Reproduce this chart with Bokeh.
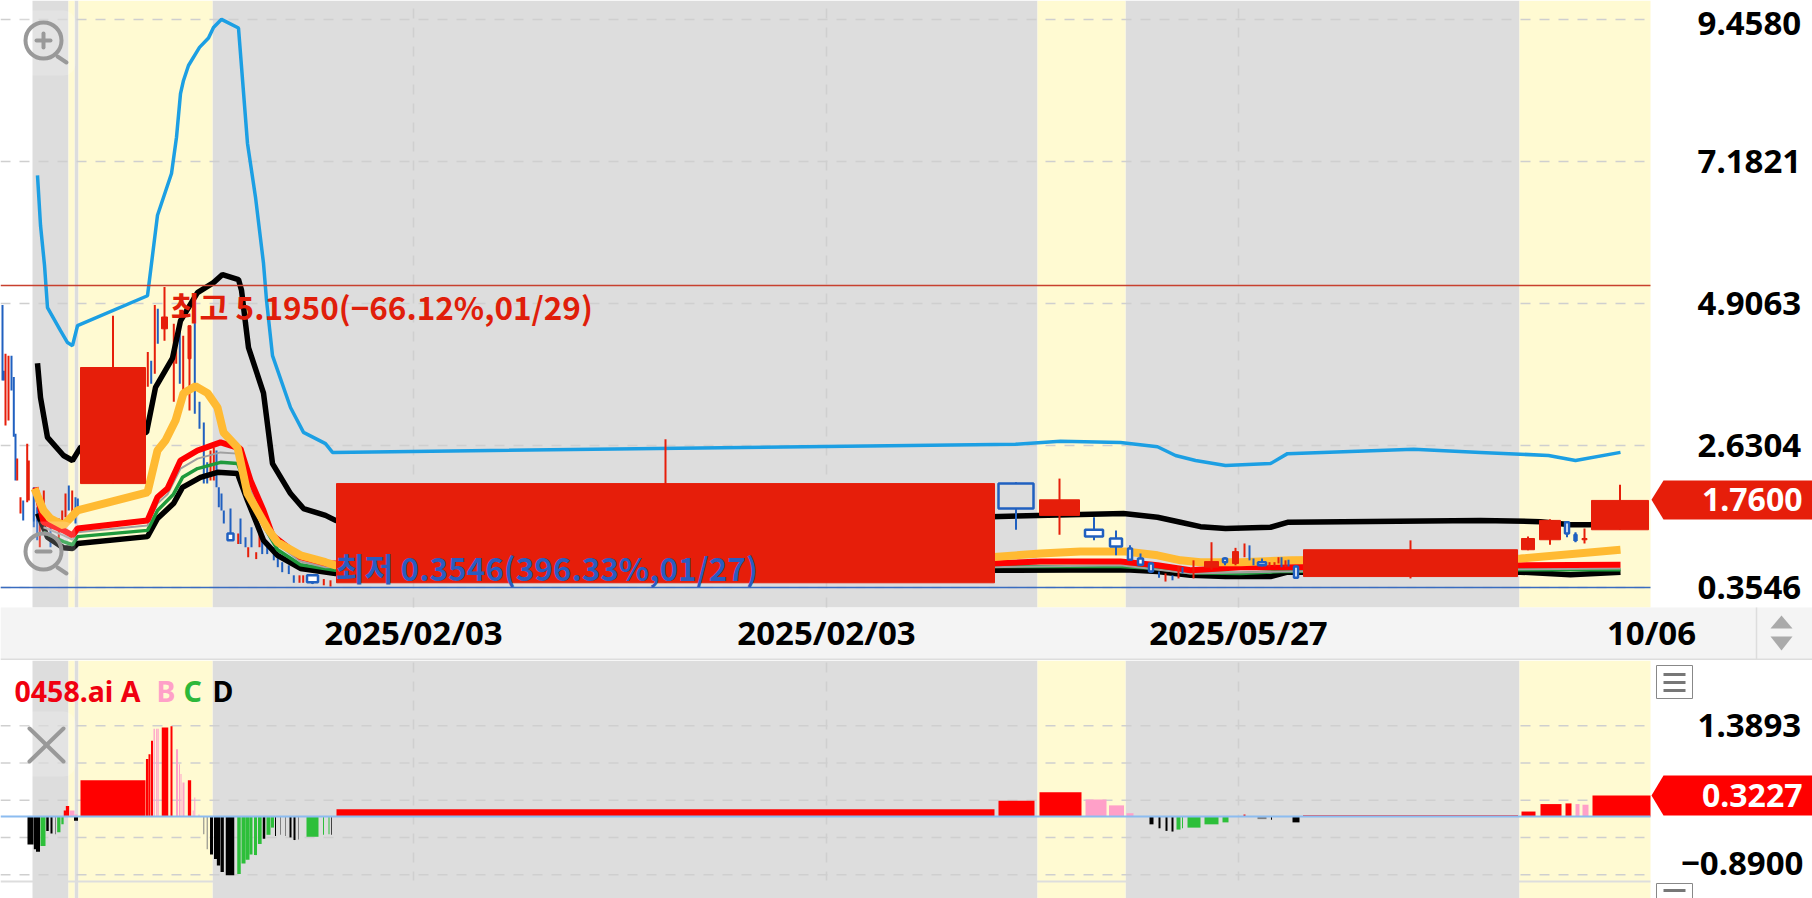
from bokeh.plotting import figure
from bokeh.models import Range1d, FixedTicker, LinearAxis
from bokeh.core.properties import value
from bokeh.layouts import column
from bokeh.embed import file_html
from bokeh.resources import INLINE

# ---------- data ----------
price_ticks = [9.4580, 7.1821, 4.9063, 2.6304, 0.3546]
price_labels = ["9.4580", "7.1821", "4.9063", "2.6304", "0.3546"]
sub_grid = [1.3893, 0.8195, 0.2497, -0.3202, -0.8900]
date_ticks = [413, 826, 1238, 1651]
date_labels = ["2025/02/03", "2025/02/03", "2025/05/27", "10/06"]
high_val, low_val, last_val, last_sub = 5.195, 0.3546, 1.76, 0.3227

gray_left = [32, 74, 212, 1125]
gray_right = [68, 78, 1037, 1519]
yellow_left = [68, 78, 1037, 1519]
yellow_right = [74, 212, 1125, 1650]

blue_x = [37,40,44,47,60,67,72,77,147,157,171,176,180,183,188,199,208,213,221,238,247,255,263,266,272,290,303,325,332,1015,1060,1120,1157,1175,1195,1225,1270,1287,1413,1480,1548,1575,1620]
blue_v = [6.96,6.16,5.52,4.84,4.47,4.28,4.23,4.55,5.03,6.32,6.99,7.57,8.27,8.48,8.72,9.01,9.16,9.33,9.46,9.32,7.47,6.61,5.55,4.96,4.07,3.24,2.84,2.66,2.52,2.65,2.70,2.68,2.61,2.47,2.39,2.31,2.34,2.50,2.57,2.52,2.47,2.39,2.52]
black1_x = [37,40,47,63,72,80,146,155,172,180,197,213,222,238,241,245,248,263,272,290,303,325,335,990,1123,1157,1180,1200,1225,1270,1287,1480,1540,1570,1590,1620]
black1_v = [3.95,3.40,2.76,2.47,2.39,2.60,2.84,3.56,4.03,4.63,5.08,5.24,5.37,5.29,5.12,4.59,4.20,3.47,2.34,1.86,1.62,1.51,1.43,1.49,1.54,1.48,1.40,1.33,1.30,1.32,1.40,1.43,1.41,1.36,1.36,1.44]
orange_x = [34,43,50,63,77,147,157,165,175,183,195,207,217,223,237,247,267,277,300,325,335,990,1040,1080,1125,1157,1180,1200,1240,1290,1520,1620]
orange_v = [1.94,1.59,1.46,1.35,1.59,1.88,2.55,2.71,3.03,3.47,3.58,3.47,3.24,2.84,2.60,1.86,1.30,1.08,0.87,0.76,0.71,0.84,0.90,0.93,0.93,0.87,0.79,0.76,0.76,0.79,0.82,0.96]
red_x = [35,43,63,72,77,147,157,167,180,197,220,240,250,263,272,300,325,990,1040,1120,1157,1190,1240,1280,1520,1620]
red_v = [1.96,1.40,1.27,1.19,1.30,1.43,1.80,1.94,2.39,2.55,2.68,2.58,2.07,1.59,1.19,0.84,0.74,0.74,0.77,0.77,0.71,0.63,0.68,0.68,0.71,0.72]
gray_x = [43,63,72,77,147,157,167,180,197,220,237,250,263,272,300,325,990,1120,1190,1280,1620]
gray_v = [1.32,1.19,1.12,1.24,1.35,1.70,1.85,2.26,2.42,2.52,2.50,1.91,1.48,1.11,0.77,0.68,0.68,0.71,0.58,0.61,0.66]
green_x = [43,63,72,77,147,157,173,182,197,220,237,250,263,277,300,335,990,1120,1157,1190,1240,1280,1520,1620]
green_v = [1.24,1.09,1.04,1.17,1.27,1.59,1.85,2.12,2.26,2.36,2.34,1.83,1.35,0.96,0.72,0.63,0.69,0.69,0.66,0.59,0.58,0.61,0.64,0.64]
black2_x = [37,47,63,72,77,147,157,173,182,200,217,237,247,263,277,300,335,990,1125,1157,1190,1225,1270,1287,1520,1570,1620]
black2_v = [1.54,1.16,0.99,0.98,1.06,1.17,1.46,1.70,1.96,2.12,2.20,2.18,1.75,1.11,0.87,0.66,0.58,0.63,0.64,0.61,0.55,0.53,0.53,0.60,0.60,0.56,0.60]

# candles with a visible body: centre, body width, body top, body bottom, high, low, kind
c_x = [112.5,665,1015.5,1059,1093.5,1115.5,1129.5,1140,1150.5,1211,1224.5,1235,1261.5,1295.5,1410,1527.5,1549.5,1566.5,1575,1584,1619.5,164,189,230,312]
c_w = [65,658,35,40,18,12,4,5,4,14,4,6,8,4,214,13,21,4,2,5,57,6,3,6,11]
c_t = [3.88,2.02,2.02,1.76,1.28,1.14,0.98,0.82,0.74,0.77,0.82,0.93,0.76,0.69,0.96,1.14,1.43,1.40,1.20,1.14,1.75,4.69,4.55,1.22,0.55]
c_b = [2.02,0.43,1.62,1.51,1.17,1.01,0.80,0.72,0.61,0.68,0.76,0.74,0.71,0.51,0.53,0.96,1.12,1.22,1.11,1.12,1.28,4.50,4.02,1.11,0.44]
c_h = [4.71,2.73,2.04,2.10,1.48,1.27,1.03,0.90,0.76,1.08,0.84,0.99,0.82,0.71,1.11,1.17,1.45,1.40,1.24,1.30,2.00,4.69,4.55,1.22,0.57]
c_l = [2.02,0.43,1.28,1.20,1.11,0.87,0.80,0.71,0.59,0.64,0.71,0.71,0.69,0.50,0.50,0.95,1.04,1.16,1.08,1.06,1.28,4.50,4.02,1.11,0.41]
c_k = list("rrbrbbbbbrbrbbrrrbbrrrrbb")

# thin candles (only a stick is visible): x, high, low, kind
thin_x = [2,3.3,5,8,11,13.3,15,16.7,20,22.7,26.7,28.3,33.3,36.7,39.3,43.3,50,58.3,61.7,65,68.3,71.7,75,77.3,147.3,150.7,154.3,157.3,164,173.3,175.7,179.3,182.7,189,194.3,199,203.3,206.7,210,213.3,216,218.3,221,223.3,230,237.7,240,245,247.7,251,255.7,259,261.7,266.7,273.3,277.3,281.7,288.3,293.3,299,302.7,312,323.3,330]
thin_h = [4.88,3.83,4.10,4.07,4.07,3.73,2.82,2.42,1.80,1.75,2.66,2.39,1.96,1.64,1.43,1.91,1.32,1.46,1.59,1.86,1.99,1.91,1.80,1.78,4.13,3.99,4.88,4.82,5.17,4.58,4.37,4.64,4.39,4.55,4.74,3.33,3.00,2.36,2.55,2.60,2.55,1.96,1.86,1.59,1.62,1.22,1.46,1.16,1.00,1.32,0.92,1.24,1.16,1.05,1.00,0.84,0.76,0.71,0.55,0.55,0.55,0.57,0.49,0.47]
thin_l = [3.67,3.67,2.95,3.03,3.51,2.77,2.07,2.07,1.54,1.43,1.72,1.75,1.32,1.11,1.00,1.24,1.00,1.11,1.32,1.48,1.59,1.54,1.38,1.54,3.57,3.62,3.78,4.26,4.31,3.33,3.94,3.62,3.33,3.19,3.14,2.90,2.02,2.02,2.07,2.07,1.96,1.64,1.59,1.38,1.11,1.05,1.05,1.00,0.84,1.00,0.81,1.00,0.89,0.89,0.79,0.68,0.60,0.57,0.43,0.43,0.43,0.41,0.39,0.37]
thin_k = list("bbrrbbbrrbrrbbrrbrrrbrbbrbrbrrrbrrbbbbrrbbbbbrbbrbrrbbbbbbbrrbrr")
thin2_x = [1158.5,1165,1172,1178,1182,1193,1244,1249,1253,1269,1274,1278,1281,1285,1288]
thin2_h = [0.61,0.58,0.55,0.69,0.68,0.79,1.06,1.03,0.82,0.76,0.76,0.84,0.84,0.79,0.80]
thin2_l = [0.51,0.45,0.47,0.50,0.58,0.50,0.84,0.79,0.71,0.68,0.69,0.74,0.68,0.68,0.69]
thin2_k = list("brbrbrrbbrrrbrb")

# indicator histogram: centre, width, value, kind (r red, p pink, g green, k black, y grey)
h_x = [30,34.5,37.5,42.5,47,51,55,58.3,62,64.5,67,71.5,75.5,75.5,112.5,146.7,149,151.5,153.7,156.3,157.7,164.5,171,176.5,179,180.5,183,189,192.7,194.3,198.5,203.3,206.7,211,215,218,221.7,229.5,238.5,243,247,250.5,255,259.3,263.5,268,272,275,280,285,290,294,298,312,323,328.5,331,665,1016,1060,1095.5,1116,1129.5,1151,1159,1166,1172,1178,1182,1193.5,1211,1225,1244,1261.5,1271,1295.5,1410,1528,1550.5,1568,1577,1585,1621]
h_w = [6,2.3,4,5,2.5,2,1,3.3,2.3,2.5,3.3,5,3,4,65,2.5,2,2,1.3,1.3,1,6.5,2,2,1,1,2,3.3,1,1,1,1,1,3,3,3.3,3.3,8.5,3.5,4,4,3,3,3.7,2.5,4,3,1,1,1,2,2,1,12,1,1,0.7,658,36,42,21,15,7,4,2,2,2,4,1,13,14,6,2,9,1,7,215,14,21,6,4,6,58]
h_v = [-0.43,-0.50,-0.54,-0.45,-0.22,-0.26,-0.27,-0.24,-0.12,0.09,0.16,0.09,0.03,-0.066,0.556,0.88,0.95,1.16,1.34,1.34,1.34,1.36,1.38,1.03,0.80,0.65,0.52,0.556,0.09,0.29,0.03,-0.27,-0.50,-0.58,-0.65,-0.75,-0.85,-0.90,-0.88,-0.72,-0.66,-0.58,-0.59,-0.42,-0.34,-0.28,-0.17,-0.30,-0.28,-0.30,-0.32,-0.36,-0.35,-0.31,-0.28,-0.27,-0.28,0.11,0.24,0.37,0.26,0.17,0.05,-0.12,-0.18,-0.22,-0.23,-0.20,-0.18,-0.17,-0.12,-0.09,0.03,-0.04,-0.05,-0.09,0.02,0.076,0.19,0.20,0.19,0.18,0.3227]
h_k = ["k","k","k","g","k","k","y","g","g","r","r","p","p","k","r","r","r","r","p","p","p","r","r","p","p","p","p","r","p","p","p","y","y","k","k","k","k","k","g","g","g","g","g","g","k","g","g","k","y","y","k","k","y","g","g","g","k","r","r","r","p","p","p","k","k","k","k","g","g","g","g","g","r","y","k","k","r","r","r","r","p","p","r"]

COL = {"r": "#e61e0a", "b": "#2060c0"}
HCOL = {"r": "#ff0000", "p": "#ffa0c8", "g": "#2dbf3a", "k": "#000000", "y": "#808080"}
TICK_FONT = "Noto Sans"

# ---------- helpers for decorations (reference pixel -> axis value) ----------
def ty(py):
    return 0.3546 + (587 - py) / 62.4

def sy(py):
    return (816 - py) / 65.4

def base(height, yr):
    p = figure(width=1812, height=height, frame_width=1812, frame_height=height,
               x_range=Range1d(0, 1812), y_range=yr, toolbar_location=None, tools="",
               output_backend="svg", min_border_left=0, min_border_right=0,
               min_border_top=0, min_border_bottom=0, outline_line_color=None,
               background_fill_color="#ffffff", border_fill_color="#ffffff")
    p.xaxis.visible = False
    p.yaxis.visible = False
    p.grid.visible = False
    return p

def bands(p, lo, hi):
    p.quad(left=gray_left, right=gray_right, bottom=lo, top=hi, fill_color="#dddddd", line_color=None, level="image")
    p.quad(left=yellow_left, right=yellow_right, bottom=lo, top=hi, fill_color="#fffad2", line_color=None, level="image")

def grids(p, yticks, lo, hi):
    n = len(yticks)
    p.segment([0] * n, yticks, [1650] * n, yticks, line_color="#cfcfcf", line_dash="10 9", line_width=1.5, level="underlay")
    m = 3
    p.segment(date_ticks[:m], [lo] * m, date_ticks[:m], [hi] * m, line_color="#cfcfcf", line_dash="10 9", line_width=1.5, level="underlay")

def right_axis(p, pos, labels):
    ax = LinearAxis(ticker=FixedTicker(ticks=pos),
                    major_label_overrides=dict(zip(pos, labels)),
                    axis_line_color=None, major_tick_line_color=None, minor_tick_line_color=None,
                    major_tick_in=0, major_tick_out=0,
                    major_label_standoff=-115, major_label_text_font=TICK_FONT,
                    major_label_text_font_size="33px", major_label_text_color="#000000",
                    major_label_text_font_style="bold")
    p.add_layout(ax, "right")

def lens(p, yf, cy, plus):
    p.quad([13], [75], [yf(cy - 30)], [yf(cy + 35)], fill_color="#ffffff", fill_alpha=0.2, line_color=None,
           border_radius=12, level="overlay")
    p.scatter([43], [yf(cy)], marker="circle", size=36, fill_color=None, line_color="#999999", line_width=4, level="overlay")
    p.segment([57], [yf(cy + 16)], [66], [yf(cy + 22)], line_color="#999999", line_width=4, line_cap="round", level="overlay")
    p.segment([36], [yf(cy)], [50], [yf(cy)], line_color="#999999", line_width=4, line_cap="round", level="overlay")
    if plus:
        p.segment([43], [yf(cy - 7)], [43], [yf(cy + 7)], line_color="#999999", line_width=4, line_cap="round", level="overlay")

def tag(p, yf, val, y_top, y_bot, col):
    p.patch([1651, 1663, 1812, 1812, 1663], [val, yf(y_top), yf(y_top), yf(y_bot), yf(y_bot)],
            fill_color=col, line_color=None, level="overlay")
    p.text([1802], [val], text=["%.4f" % val], text_color="#ffffff", text_font=value(TICK_FONT),
           text_font_size="32px", text_font_style="bold", text_align="right", text_baseline="middle", level="overlay")

# ---------- price panel ----------
top = base(660, Range1d(ty(660), ty(0)))
bands(top, ty(607), ty(0))
grids(top, price_ticks, ty(607), ty(0))

# strip holding the dates
top.quad([0], [1812], [ty(607)], [ty(660)], fill_color="#f4f4f4", line_color=None, level="image")
top.segment([0], [ty(659)], [1812], [ty(659)], line_color="#dddddd", line_width=2, level="image")
top.segment([1756], [ty(607)], [1756], [ty(660)], line_color="#dddddd", line_width=1.5, level="image")
top.patch([1770, 1781, 1792], [ty(628), ty(615), ty(628)], fill_color="#aaaaaa", line_color=None)
top.patch([1770, 1781, 1792], [ty(636), ty(650), ty(636)], fill_color="#aaaaaa", line_color=None)

xax = LinearAxis(ticker=FixedTicker(ticks=date_ticks),
                 major_label_overrides=dict(zip(date_ticks, date_labels)),
                 axis_line_color=None, major_tick_line_color=None, minor_tick_line_color=None,
                 major_tick_in=0, major_tick_out=0,
                 major_label_standoff=-51, major_label_text_font=TICK_FONT,
                 major_label_text_font_size="33px", major_label_text_color="#000000",
                 major_label_text_font_style="bold")
top.add_layout(xax, "below")

label_pos = [ty(23)] + price_ticks[1:]
right_axis(top, label_pos, price_labels)

def sticks(p, xs, hi, lo, kinds, w):
    p.segment(xs, hi, xs, lo, line_color=[COL[k] for k in kinds], line_width=w)

# thin left sticks lie under the averages
sticks(top, thin_x, thin_h, thin_l, thin_k, 2)

top.line(blue_x, blue_v, line_color="#1c9fe3", line_width=3.5)
top.line(black1_x, black1_v, line_color="#000000", line_width=5.5)
top.line(black2_x, black2_v, line_color="#000000", line_width=5.5)
top.line(green_x, green_v, line_color="#1f9a3c", line_width=3.5)
top.line(gray_x, gray_v, line_color="#a0a0a0", line_width=2)
top.line(red_x, red_v, line_color="#ff0000", line_width=6)
top.line(orange_x, orange_v, line_color="#ffba33", line_width=8)

sticks(top, thin2_x, thin2_h, thin2_l, thin2_k, 2)
top.segment(c_x, c_h, c_x, c_l, line_color=[COL[k] for k in c_k], line_width=2)
top.vbar(x=c_x, width=c_w, top=c_t, bottom=c_b,
         fill_color=[COL["r"] if k == "r" else ("#dddddd" if w > 30 else "#ffffff") for k, w in zip(c_k, c_w)],
         line_color=[COL[k] for k in c_k], line_width=[1 if k == "r" else 2.5 for k in c_k])

top.segment([0, 0], [high_val, low_val], [1650, 1650], [high_val, low_val],
            line_color=["#c8402e", "#3a6cc0"], line_width=1.5)
top.text([170], [ty(305)], text=["최고 5.1950(−66.12%,01/29)"], text_color="#e01e0a",
         text_font=value("Noto Sans CJK KR"), text_font_size="31.5px", text_font_style="bold", text_baseline="middle", level="overlay")
top.text([335], [ty(566)], text=["최저 0.3546(396.33%,01/27)"], text_color="#2a5cc0",
         text_font=value("Noto Sans CJK KR"), text_font_size="31.5px", text_font_style="bold", text_baseline="middle", level="overlay")
lens(top, ty, 40, True)
lens(top, ty, 551, False)
tag(top, ty, last_val, 480, 519, "#e61e0a")

# ---------- indicator panel ----------
sub = base(238, Range1d(sy(898), sy(660)))
bands(sub, sy(898), sy(660))
grids(sub, sub_grid, sy(881), sy(660))
right_axis(sub, [sy(725)], ["1.3893"])

sub.vbar(x=h_x, width=h_w, top=[max(v, 0) for v in h_v], bottom=[min(v, 0) for v in h_v],
         fill_color=[HCOL[k] for k in h_k], line_color=None)
sub.segment([0], [0], [1650], [0], line_color="#8cbcf0", line_width=2)
sub.segment([0], [sy(881)], [1650], [sy(881)], line_color="#dddddd", line_width=2)

for x, txt, col in [(14, "0458.ai A", "#f00010"), (156, "B", "#ffa0c8"), (183, "C", "#2db83a"), (212, "D", "#000000")]:
    sub.text([x], [sy(690)], text=[txt], text_color=col, text_font=value("Noto Sans"), text_font_size="28.5px",
             text_font_style="bold", text_baseline="middle", level="overlay")
sub.quad([13], [75], [sy(711)], [sy(776)], fill_color="#ffffff", fill_alpha=0.2, line_color=None, border_radius=12, level="overlay")
sub.segment([29, 29], [sy(728), sy(761)], [63, 63], [sy(761), sy(728)], line_color="#999999", line_width=4,
            line_cap="round", level="overlay")

sub.text([1803], [sy(863)], text=["−0.8900"], text_color="#000000", text_font=value(TICK_FONT),
         text_font_size="33px", text_font_style="bold", text_align="right", text_baseline="middle")
tag(sub, sy, last_sub, 775, 815, "#ff0000")
# panel buttons
sub.quad([1656, 1656], [1692, 1692], [sy(665), sy(883)], [sy(698), sy(902)], fill_color="#ffffff", line_color="#888888", line_width=1)
sub.quad([1663] * 4, [1685] * 4, [sy(672.5), sy(680.5), sy(688.5), sy(888.5)], [sy(675.5), sy(683.5), sy(691.5), sy(891.5)],
         fill_color="#777777", line_color=None)

page = column(top, sub, spacing=0)
open("out.html", "w").write(file_html(page, INLINE))
